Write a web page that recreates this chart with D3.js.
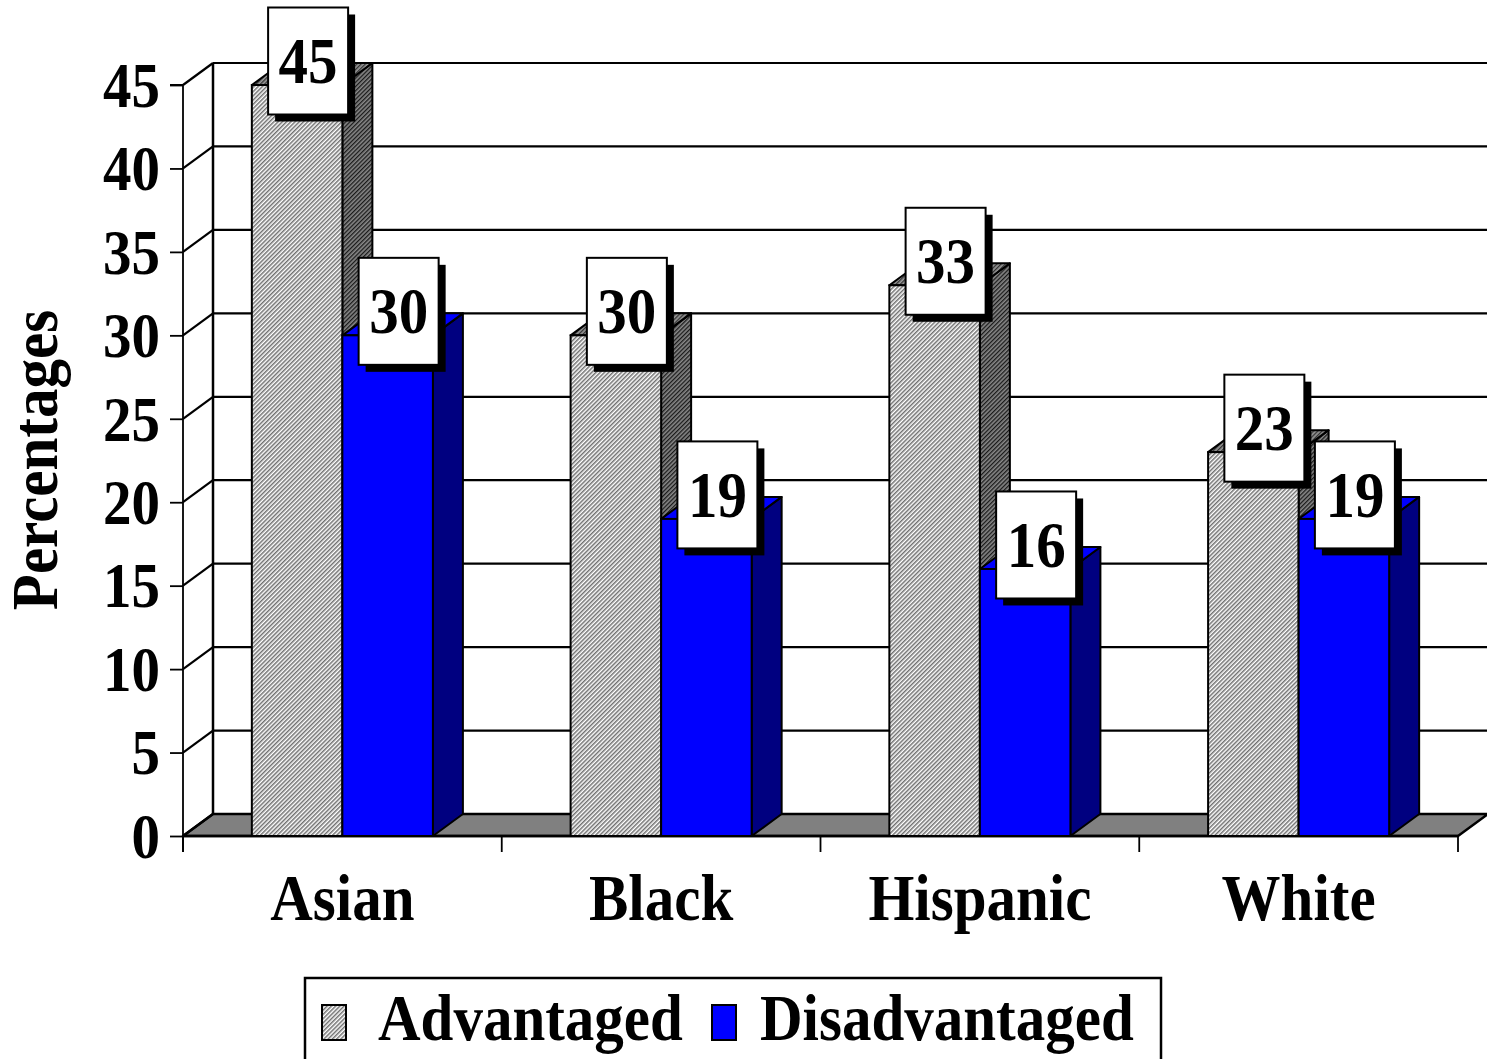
<!DOCTYPE html>
<html>
<head>
<meta charset="utf-8">
<script src="https://cdn.jsdelivr.net/npm/d3@7/dist/d3.min.js"></script>
<style>
  html, body { margin: 0; padding: 0; background: #ffffff; }
  svg { display: block; }
  text { font-family: "Liberation Serif", "Times New Roman", serif; font-weight: bold; fill: #000; }
</style>
</head>
<body>
<svg id="chart" width="1487" height="1059"></svg>
<script>
// Percentages by group, two series
const categories = ["Asian", "Black", "Hispanic", "White"];
const seriesNames = ["Advantaged", "Disadvantaged"];
const advantaged = [45, 30, 33, 23];
const disadvantaged = [30, 19, 16, 19];
const yTicks = [0, 5, 10, 15, 20, 25, 30, 35, 40, 45];

const svg = d3.select("#chart");
const W = 1487, H = 1059;
const TALL = 1.1; // vertical stretch of the lettering

// front plane of the 3-D box
const x0 = 183, x1 = 1458;
const yBase = 836, yTop = 85;
// depth offset toward the back wall
const DX = 30, DY = -22;

const y = d3.scaleLinear().domain([0, 45]).range([yBase, yTop]);
const xCat = d3.scaleBand().domain(categories).range([x0, x1]).paddingInner(0.432).paddingOuter(0.216);
const xSer = d3.scaleBand().domain(seriesNames).range([0, xCat.bandwidth()]);

// text placed at (x, y) with a slight vertical stretch
function label(parent, x, yy, str, size, anchor, rot) {
  const t = parent.append("text")
    .attr("transform", `translate(${x},${yy})${rot ? ` rotate(${rot})` : ""} scale(1,${TALL})`)
    .attr("font-size", size).attr("text-anchor", anchor || "start").text(str);
  return t;
}

// fill patterns for the hatched series
const defs = svg.append("defs");
function hatch(id, bg, fg, w) {
  const p = defs.append("pattern")
    .attr("id", id).attr("patternUnits", "userSpaceOnUse")
    .attr("width", 3).attr("height", 3)
    .attr("patternTransform", "rotate(45)");
  p.append("rect").attr("width", 3).attr("height", 3).attr("fill", bg);
  p.append("rect").attr("width", w).attr("height", 3).attr("fill", fg);
}
hatch("hatchFront", "#ffffff", "#707070", 1.5);
hatch("hatchSide", "#888888", "#1a1a1a", 1.3);
hatch("hatchTop", "#999999", "#333333", 1.3);

const seriesStyle = {
  Advantaged: { front: "url(#hatchFront)", side: "url(#hatchSide)", top: "url(#hatchTop)" },
  Disadvantaged: { front: "#0000ff", side: "#000080", top: "#0000ff" }
};

const g = svg.append("g");

// back wall and floor
const yBack = v => y(v) + DY;
g.append("rect").attr("x", x0 + DX).attr("y", yBack(45)).attr("width", W - (x0 + DX) + 2).attr("height", yBack(0) - yBack(45)).attr("fill", "#fff");

g.append("polygon")
  .attr("points", [[x0, yBase], [x0 + DX, yBase + DY], [x1 + DX, yBase + DY], [x1, yBase]].join(" "))
  .attr("fill", "#808080").attr("stroke", "#000").attr("stroke-width", 2.5).attr("stroke-linejoin", "round");

// gridlines on the back wall and the left wall
yTicks.forEach(v => {
  if (v > 0) {
    g.append("line").attr("x1", x0 + DX).attr("x2", W + 2)
      .attr("y1", yBack(v)).attr("y2", yBack(v)).attr("stroke", "#000").attr("stroke-width", 2.2);
  }
  g.append("line").attr("x1", x0).attr("y1", y(v)).attr("x2", x0 + DX).attr("y2", yBack(v))
    .attr("stroke", "#000").attr("stroke-width", 2.2);
});
g.append("line").attr("x1", x0 + DX).attr("x2", x0 + DX).attr("y1", yBack(45)).attr("y2", yBack(0))
  .attr("stroke", "#000").attr("stroke-width", 2.5);

// front value axis
const yAxis = d3.axisLeft(y).tickValues(yTicks).tickSize(13).tickPadding(10).tickFormat(d3.format("d"));
const ya = svg.append("g").attr("transform", `translate(${x0},0)`).call(yAxis);
ya.select(".domain").attr("stroke", "#000").attr("stroke-width", 1.8).attr("d", `M-13,${yTop}H0V${yBase + 16}`);
ya.selectAll(".tick line").attr("stroke", "#000").attr("stroke-width", 1.8);
ya.selectAll(".tick text").attr("font-size", 57).attr("font-family", "Liberation Serif, serif")
  .attr("font-weight", "bold").attr("fill", "#000").attr("dy", "0.34em")
  .attr("transform", `scale(1,${TALL})`);

// front category axis
const xa = svg.append("g").attr("transform", `translate(0,${yBase})`);
xa.append("line").attr("x1", x0).attr("x2", x1).attr("stroke", "#000").attr("stroke-width", 2.5);
d3.range(categories.length + 1).forEach(i => {
  const xv = x0 + i * xCat.step();
  xa.append("line").attr("x1", xv).attr("x2", xv).attr("y1", 0).attr("y2", 16)
    .attr("stroke", "#000").attr("stroke-width", 1.8);
});
categories.forEach(c => label(xa, xCat(c) + xCat.bandwidth() / 2, 84, c, 59, "middle"));

// 3-D columns
const values = { Advantaged: advantaged, Disadvantaged: disadvantaged };
const bars = [];
categories.forEach((c, i) => {
  seriesNames.forEach(s => {
    const v = values[s][i];
    const bx = xCat(c) + xSer(s);
    const bw = xSer.bandwidth();
    bars.push({ c, s, v, bx, bw });
  });
});

const barG = svg.append("g");
bars.forEach(b => {
  const st = seriesStyle[b.s];
  const top = y(b.v), bottom = y(0);
  const gb = barG.append("g");
  // side face
  gb.append("polygon")
    .attr("points", [[b.bx + b.bw, bottom], [b.bx + b.bw + DX, bottom + DY], [b.bx + b.bw + DX, top + DY], [b.bx + b.bw, top]].join(" "))
    .attr("fill", st.side).attr("stroke", "#000").attr("stroke-width", 2).attr("stroke-linejoin", "round");
  // top face
  gb.append("polygon")
    .attr("points", [[b.bx, top], [b.bx + DX, top + DY], [b.bx + b.bw + DX, top + DY], [b.bx + b.bw, top]].join(" "))
    .attr("fill", st.top).attr("stroke", "#000").attr("stroke-width", 2).attr("stroke-linejoin", "round");
  // front face
  gb.append("rect").attr("x", b.bx).attr("y", top).attr("width", b.bw).attr("height", bottom - top)
    .attr("fill", st.front).attr("stroke", "#000").attr("stroke-width", 2);
});

// value labels: white boxes with a drop shadow
const BW = 80, BH = 107, SH = 7;
const labG = svg.append("g");
bars.forEach(b => {
  const cx = b.bx + b.bw / 2 + 11;
  const cy = y(b.v) - 24;
  labG.append("rect").attr("x", cx - BW / 2 + SH).attr("y", cy - BH / 2 + SH).attr("width", BW).attr("height", BH).attr("fill", "#000");
  labG.append("rect").attr("x", cx - BW / 2).attr("y", cy - BH / 2).attr("width", BW).attr("height", BH)
    .attr("fill", "#fff").attr("stroke", "#000").attr("stroke-width", 2);
  label(labG, cx, cy + 22, d3.format("d")(b.v), 59, "middle");
});

// value axis title
label(svg, 57, 460, "Percentages", 59, "middle", -90);

// legend
const lg = svg.append("g");
lg.append("rect").attr("x", 305).attr("y", 978).attr("width", 856).attr("height", 120)
  .attr("fill", "#fff").attr("stroke", "#000").attr("stroke-width", 2.5);
const legendItems = [
  { name: "Advantaged", sx: 322, tx: 378 },
  { name: "Disadvantaged", sx: 712, tx: 760 }
];
legendItems.forEach(it => {
  lg.append("rect").attr("x", it.sx).attr("y", 1005).attr("width", 24).attr("height", 35)
    .attr("fill", seriesStyle[it.name].front).attr("stroke", "#000").attr("stroke-width", 2);
  label(lg, it.tx, 1040, it.name, 59, "start");
});
</script>
</body>
</html>
